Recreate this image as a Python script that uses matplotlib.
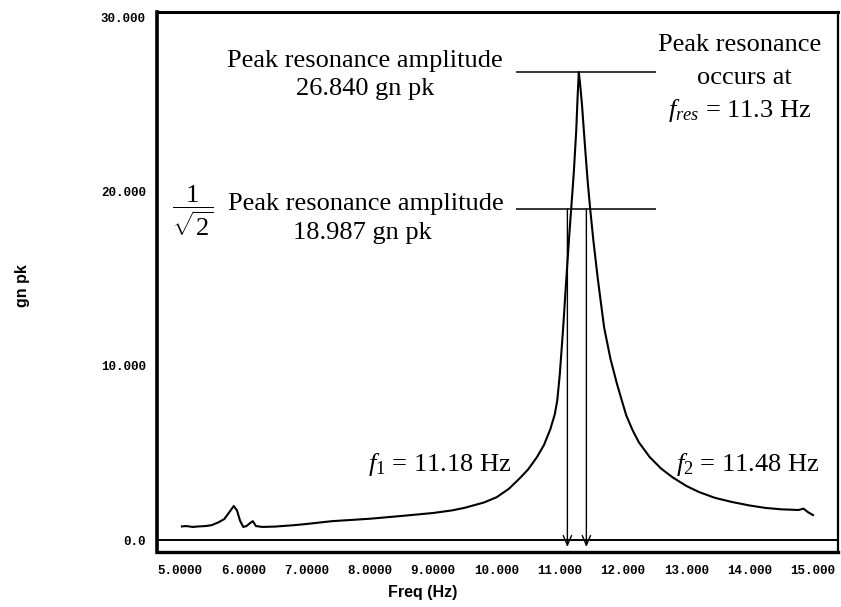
import matplotlib
matplotlib.use('Agg')
import matplotlib.pyplot as plt

# ---------------- data ----------------
freq = [5.03, 5.10, 5.20, 5.30, 5.40, 5.50, 5.60, 5.70, 5.78, 5.85, 5.90, 5.95,
        6.00, 6.05, 6.10, 6.15, 6.20, 6.30, 6.50, 6.80, 7.00, 7.40, 7.70, 8.00,
        8.50, 9.00, 9.30, 9.50, 9.80, 10.00, 10.20, 10.37, 10.50, 10.64, 10.75,
        10.85, 10.92, 10.96, 11.00, 11.05, 11.10, 11.15, 11.18, 11.22, 11.26,
        11.28, 11.30, 11.32, 11.35, 11.40, 11.44, 11.48, 11.53, 11.60, 11.70,
        11.80, 11.90, 11.98, 12.05, 12.15, 12.25, 12.42, 12.60, 12.78, 13.00,
        13.20, 13.45, 13.72, 14.00, 14.25, 14.50, 14.65, 14.77, 14.85, 14.92, 15.00]
amp = [0.78, 0.80, 0.75, 0.78, 0.80, 0.85, 1.00, 1.20, 1.60, 1.95, 1.70, 1.10,
       0.75, 0.80, 0.95, 1.08, 0.80, 0.75, 0.77, 0.85, 0.92, 1.08, 1.15, 1.22,
       1.38, 1.55, 1.70, 1.85, 2.15, 2.45, 2.95, 3.55, 4.05, 4.76, 5.45,
       6.35, 7.20, 8.00, 9.50, 12.00, 14.80, 17.50, 19.00, 21.00, 23.50,
       25.30, 26.84, 26.20, 25.00, 22.50, 20.60, 19.00, 17.20, 15.00, 12.20,
       10.40, 9.00, 8.00, 7.15, 6.30, 5.60, 4.76, 4.10, 3.60, 3.10,
       2.75, 2.42, 2.18, 1.98, 1.84, 1.76, 1.74, 1.72, 1.80, 1.60, 1.43]

x_ticks = [5, 6, 7, 8, 9, 10, 11, 12, 13, 14, 15]
x_tick_labels = ['5.0000', '6.0000', '7.0000', '8.0000', '9.0000', '10.000',
                 '11.000', '12.000', '13.000', '14.000', '15.000']
y_ticks = [0, 10, 20, 30]
y_tick_labels = ['0.0', '10.000', '20.000', '30.000']

peak_amp = 26.840
half_amp = 18.987
f_res = 11.3
f1 = 11.18
f2 = 11.48
arrow_x = [11.12, 11.42]
ref_line_x = [10.31, 12.52]

# ---------------- style ----------------
plt.rcParams['mathtext.fontset'] = 'custom'
plt.rcParams['mathtext.rm'] = 'Liberation Serif'
plt.rcParams['mathtext.it'] = 'Liberation Serif:italic'
plt.rcParams['mathtext.bf'] = 'Liberation Serif:bold'

W, H = 841, 607
fig = plt.figure(figsize=(W / 100, H / 100), dpi=100)
L, R, B, T = 157, 838, 552, 12
ax = fig.add_axes([L / W, 1 - B / H, (R - L) / W, (B - T) / H])
ax.set_xlim(4.637, 15.395)
ax.set_ylim(-0.688, 30.29)

def px(x, y):
    return (x / W, 1 - y / H)

ax.plot(freq, amp, color='black', lw=1.5)
ax.axhline(0, color='black', lw=1.4)
ax.hlines([peak_amp, half_amp], ref_line_x[0], ref_line_x[1], color='black', lw=1.1)

for xa in arrow_x:
    ax.annotate('', xy=(xa, -0.4), xytext=(xa, half_amp),
                arrowprops=dict(arrowstyle='->,head_length=0.7,head_width=0.3',
                                color='black', lw=1.0, shrinkA=0, shrinkB=0))

ax.set_xticks(x_ticks)
ax.set_xticklabels(x_tick_labels)
ax.set_yticks(y_ticks)
ax.set_yticklabels(y_tick_labels)
ax.tick_params(axis='both', length=0)
ax.tick_params(axis='x', pad=9)
ax.tick_params(axis='y', pad=8)
for lab in ax.get_xticklabels() + ax.get_yticklabels():
    lab.set_fontfamily('Liberation Mono')
    lab.set_fontweight('bold')
    lab.set_fontsize(9)

for side, lw in [('left', 2.6), ('top', 2.2), ('bottom', 2.4), ('right', 1.6)]:
    ax.spines[side].set_linewidth(lw)
    ax.spines[side].set_color('black')

fig.text(*px(423, 592), 'Freq (Hz)', fontsize=11.5, fontweight='bold',
         family='Liberation Sans', ha='center', va='center')
fig.text(*px(23, 286), 'gn pk', fontsize=11.5, fontweight='bold',
         family='Liberation Sans', ha='center', va='center', rotation=90)

serif = dict(family='Liberation Serif', fontsize=19, color='black')
fig.text(*px(365, 61), 'Peak resonance amplitude', ha='center', va='center', **serif)
fig.text(*px(365, 89), '%.3f gn pk' % peak_amp, ha='center', va='center', **serif)
fig.text(*px(740, 45), 'Peak resonance', ha='center', va='center', **serif)
fig.text(*px(744, 78), 'occurs at', ha='center', va='center', **serif)
fig.text(*px(740, 110), r'$f_{res}$ = %.1f Hz' % f_res, ha='center', va='center', **serif)

fig.text(*px(193, 211), r'$\dfrac{1}{\sqrt{2}}$', ha='center', va='center', **serif)
fig.text(*px(366, 204), 'Peak resonance amplitude', ha='center', va='center', **serif)
fig.text(*px(362, 233), '%.3f gn pk' % half_amp, ha='center', va='center', **serif)

fig.text(*px(440, 465), r'$f_1$ = %.2f Hz' % f1, ha='center', va='center', **serif)
fig.text(*px(748, 465), r'$f_2$ = %.2f Hz' % f2, ha='center', va='center', **serif)

fig.savefig('out.png', dpi=100, facecolor='white')
